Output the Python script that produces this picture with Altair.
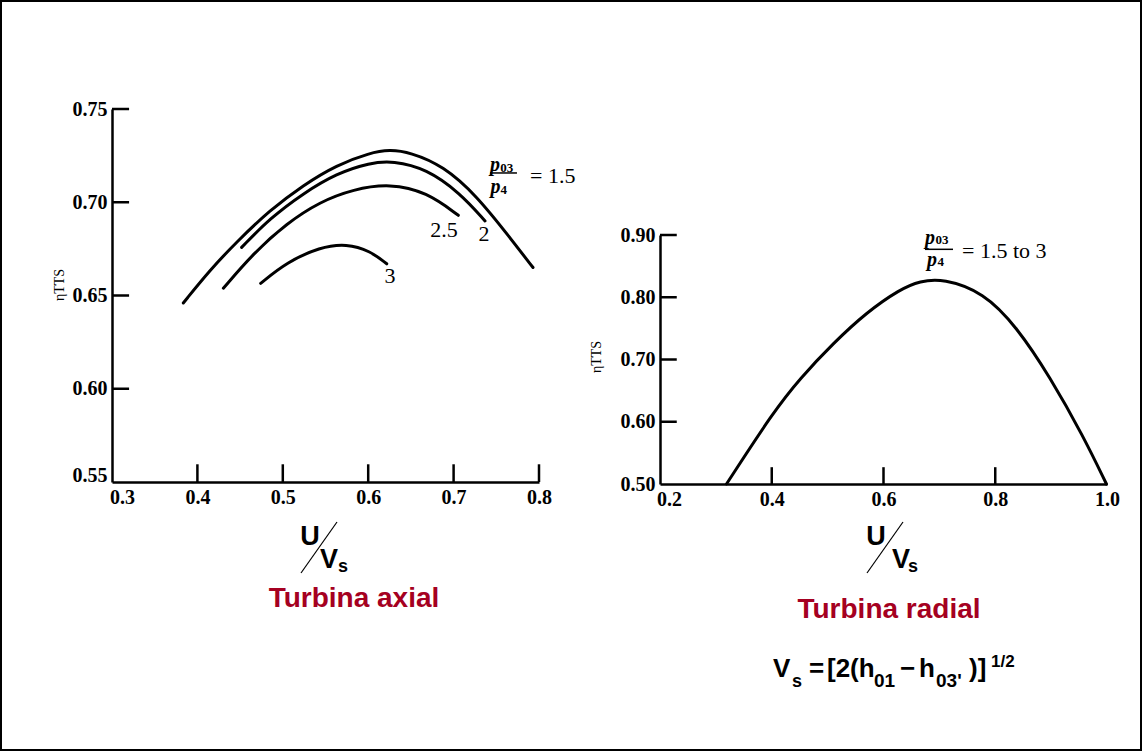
import altair as alt
import pandas as pd

# ---------------- data: axial turbine (left panel) ----------------
axial_15_x = [0.3835, 0.4148, 0.446, 0.485, 0.524, 0.563, 0.602, 0.625, 0.649, 0.688, 0.727, 0.766, 0.793]
axial_15_y = [0.646, 0.6637, 0.6788, 0.6958, 0.7092, 0.720, 0.7265, 0.7282, 0.7268, 0.7195, 0.7035, 0.6810, 0.6650]
axial_2_x = [0.4518, 0.485, 0.524, 0.563, 0.602, 0.629, 0.668, 0.7075, 0.7368]
axial_2_y = [0.6758, 0.6914, 0.7048, 0.7155, 0.7212, 0.7222, 0.7180, 0.7050, 0.6900]
axial_25_x = [0.4304, 0.4655, 0.5045, 0.5436, 0.5826, 0.6255, 0.6684, 0.7055]
axial_25_y = [0.6539, 0.6726, 0.6887, 0.7003, 0.7070, 0.7100, 0.7055, 0.6930]
axial_3_x = [0.4741, 0.5045, 0.5436, 0.5748, 0.602, 0.6217]
axial_3_y = [0.6565, 0.6678, 0.6760, 0.6778, 0.6740, 0.6670]

axial_label_text = ["2.5", "2", "3"]
axial_label_x = [0.6888, 0.7356, 0.6255]
axial_label_y = [0.6851, 0.6830, 0.6605]

axial_x_ticks = [0.3, 0.4, 0.5, 0.6, 0.7, 0.8]
axial_y_ticks = [0.55, 0.60, 0.65, 0.70, 0.75]

# ---------------- data: radial turbine (right panel) ----------------
radial_x = [0.319, 0.403, 0.451, 0.510, 0.570, 0.630, 0.665, 0.707, 0.779, 0.838, 0.898, 0.958, 0.999]
radial_y = [0.50, 0.616, 0.670, 0.726, 0.776, 0.813, 0.826, 0.830, 0.808, 0.753, 0.672, 0.576, 0.50]

radial_x_ticks = [0.2, 0.4, 0.6, 0.8, 1.0]
radial_y_ticks = [0.50, 0.60, 0.70, 0.80, 0.90]

SERIF = "Liberation Serif"
SANS = "Liberation Sans"
RED = "#A50021"
one = pd.DataFrame({"k": [0]})


def ptext(text, x, y, size, font=SANS, weight="bold", color="black",
          align="center", baseline="alphabetic", angle=0, style="normal"):
    return alt.Chart(one).mark_text(
        text=text, font=font, fontSize=size, fontWeight=weight, color=color,
        align=align, baseline=baseline, angle=angle, fontStyle=style
    ).encode(x=alt.value(x), y=alt.value(y))


def pline(x, y, x2, y2, w=1.2):
    return alt.Chart(one).mark_rule(color="black", strokeWidth=w).encode(
        x=alt.value(x), y=alt.value(y), x2=alt.value(x2), y2=alt.value(y2))


def dtext(ts, xs, ys, size, font=SERIF, weight="normal", style="normal", align="center", baseline="middle"):
    df = pd.DataFrame({"x": xs, "y": ys, "t": ts})
    return alt.Chart(df).mark_text(
        font=font, fontSize=size, fontWeight=weight, fontStyle=style,
        color="black", align=align, baseline=baseline
    ).encode(x="x:Q", y="y:Q", text="t:N")


def drule(xs, x2s, ys, y2s=None, w=2.5):
    d = {"x": xs, "x2": x2s, "y": ys}
    enc = dict(x="x:Q", x2="x2:Q", y="y:Q")
    if y2s is not None:
        d["y2"] = y2s
        enc["y2"] = "y2:Q"
    return alt.Chart(pd.DataFrame(d)).mark_rule(color="black", strokeWidth=w).encode(**enc)


def make_axis(values, fmt, offset_test, offset_val):
    return alt.Axis(
        values=values, format=fmt, title=None, grid=False, ticks=False, tickSize=0,
        domainColor="black", domainWidth=2.5, labelFont=SERIF, labelFontSize=20,
        labelFontWeight="bold", labelColor="black", labelPadding=5,
        labelFlush=False, labelOverlap=False,
        labelOffset={"condition": {"test": offset_test, "value": offset_val}, "value": 0},
    )


# ---------------- left panel ----------------
LW, LH = 427, 373
rows = []
for name, xs, ys in [("1.5", axial_15_x, axial_15_y), ("2", axial_2_x, axial_2_y),
                     ("2.5", axial_25_x, axial_25_y), ("3", axial_3_x, axial_3_y)]:
    for a, b in zip(xs, ys):
        rows.append({"c": name, "x": a, "y": b})
left_df = pd.DataFrame(rows)

left_curves = alt.Chart(left_df).mark_line(
    color="black", strokeWidth=3, interpolate="basis", strokeCap="round"
).encode(
    x=alt.X("x:Q", scale=alt.Scale(domain=[0.3, 0.8], nice=False, zero=False),
            axis=make_axis(axial_x_ticks, ".1f", "datum.value < 0.35", 10)),
    y=alt.Y("y:Q", scale=alt.Scale(domain=[0.55, 0.75], nice=False, zero=False),
            axis=make_axis(axial_y_ticks, ".2f", "datum.value < 0.56", -7)),
    detail="c:N",
)

left_xticks = drule(axial_x_ticks[1:], axial_x_ticks[1:], [0.55] * 5, [0.5595] * 5)
left_yticks = drule([0.3] * 4, [0.32] * 4, axial_y_ticks[1:])
left_labels = dtext(axial_label_text, axial_label_x, axial_label_y, 22)
left_p = dtext(["p", "p"], [0.7485, 0.7490], [0.7200, 0.7080], 20, style="italic", weight="bold")
left_sub = dtext(["03", "4"], [0.7545, 0.7550], [0.7185, 0.7065], 13, weight="bold", align="left")
left_eq = dtext(["=  1.5"], [0.7895], [0.7141], 22, align="left")
left_frac = drule([0.7426], [0.7742], [0.7157], w=1.5)

frame = alt.Chart(one).mark_rect(fillOpacity=0, stroke="black", strokeWidth=2).encode(
    x=alt.value(-111), x2=alt.value(1029), y=alt.value(-108), y2=alt.value(641))

left = alt.layer(
    frame, left_curves, left_xticks, left_yticks, left_labels,
    left_p, left_sub, left_eq, left_frac,
    ptext("ηTTS", -52, 176, 14, font=SERIF, weight="normal", baseline="middle", angle=270),
    ptext("U", 198, 436, 27),
    ptext("V", 217, 459, 27),
    ptext("s", 231, 463, 18),
    pline(189, 464, 225, 413),
    ptext("Turbina axial", 242, 498, 28, color=RED),
).properties(width=LW, height=LH)

# ---------------- right panel ----------------
RW, RH = 447, 249
right_df = pd.DataFrame({"x": radial_x, "y": radial_y})
right_curve = alt.Chart(right_df).mark_line(
    color="black", strokeWidth=3, interpolate="basis", strokeCap="round"
).encode(
    x=alt.X("x:Q", scale=alt.Scale(domain=[0.2, 1.0], nice=False, zero=False),
            axis=make_axis(radial_x_ticks, ".1f", "datum.value < 0.25", 9)),
    y=alt.Y("y:Q", scale=alt.Scale(domain=[0.5, 0.9], nice=False, zero=False),
            axis=make_axis(radial_y_ticks, ".2f", "datum.value < 0.45", 0)),
)
right_xticks = drule(radial_x_ticks[1:4], radial_x_ticks[1:4], [0.5] * 3, [0.527] * 3)
right_yticks = drule([0.2] * 4, [0.23] * 4, radial_y_ticks[1:])
right_p = dtext(["p", "p"], [0.6832, 0.6870], [0.8950, 0.8595], 20, style="italic", weight="bold")
right_sub = dtext(["03", "4"], [0.6930, 0.6965], [0.8925, 0.8570], 13, weight="bold", align="left")
right_eq = dtext(["=  1.5 to 3"], [0.7405], [0.8743], 22, align="left")
right_frac = drule([0.6743], [0.7244], [0.877], w=1.5)

right = alt.layer(
    right_curve, right_xticks, right_yticks, right_p, right_sub, right_eq, right_frac,
    ptext("ηTTS", -63, 122, 14, font=SERIF, weight="normal", baseline="middle", angle=270),
    ptext("U", 216, 310, 27),
    ptext("V", 241, 333, 27),
    ptext("s", 253, 337, 18),
    pline(207, 338, 243, 287),
    ptext("Turbina radial", 229, 383, 28, color=RED),
    ptext("V", 113, 442, 26, align="left"),
    ptext("s", 132, 452, 18, align="left"),
    ptext("=", 149, 442, 26, align="left"),
    ptext("[2(h", 167, 442, 26, align="left"),
    ptext("01", 214, 452, 19, align="left"),
    ptext("−", 240, 442, 26, align="left"),
    ptext("h", 259, 442, 26, align="left"),
    ptext("03'", 276, 452, 19, align="left"),
    ptext(")]", 309, 442, 26, align="left"),
    ptext("1/2", 331, 432, 17, align="left"),
).properties(width=RW, height=RH)

spacer = alt.Chart(one).mark_text().encode(text=alt.value("")).properties(width=RW, height=106)

right_col = alt.vconcat(spacer, right, spacing=20, bounds="flush")

chart = alt.hconcat(left, right_col, spacing=121, bounds="flush").properties(
    padding=0, background="white"
).configure_view(stroke=None)

chart.save("out.html", embed_options={"renderer": "svg", "actions": False})
